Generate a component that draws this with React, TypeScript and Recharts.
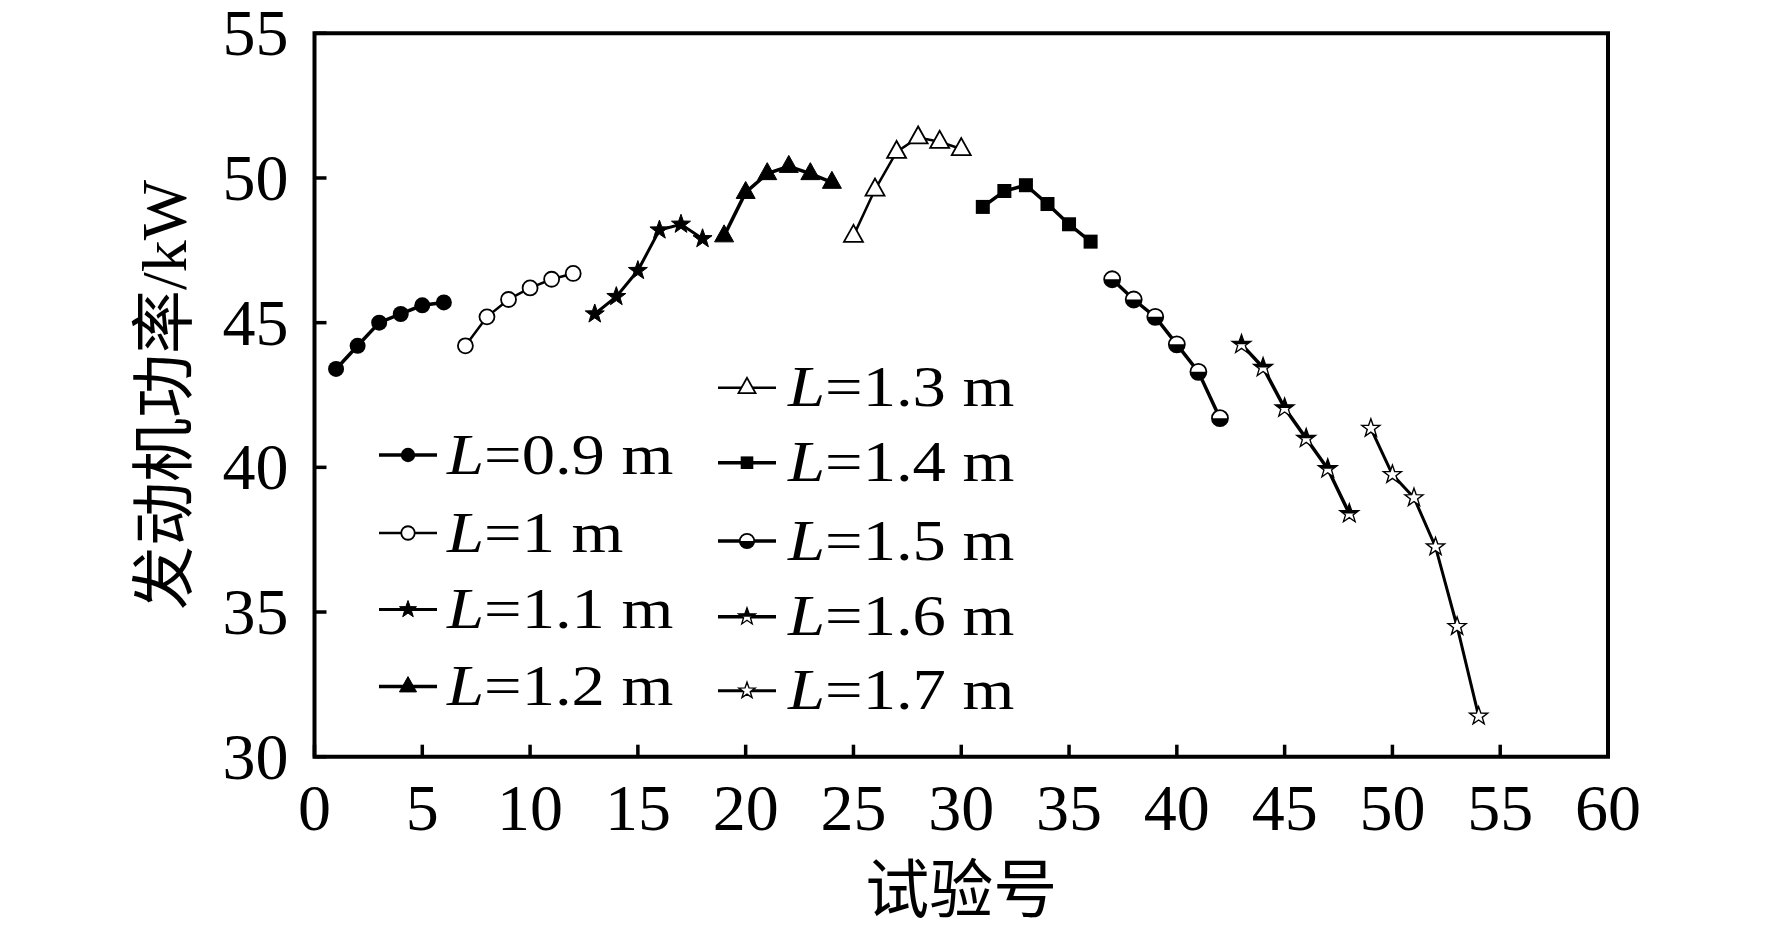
import React from 'react';
import { LineChart, Line, XAxis, YAxis, ReferenceArea, Legend, Label } from 'recharts';

// trial numbers and engine power (kW) for each tube length L
const TRIALS_09 = [1, 2, 3, 4, 5, 6];
const TRIALS_10 = [7, 8, 9, 10, 11, 12];
const TRIALS_11 = [13, 14, 15, 16, 17, 18];
const TRIALS_12 = [19, 20, 21, 22, 23, 24];
const TRIALS_13 = [25, 26, 27, 28, 29, 30];
const TRIALS_14 = [31, 32, 33, 34, 35, 36];
const TRIALS_15 = [37, 38, 39, 40, 41, 42];
const TRIALS_16 = [43, 44, 45, 46, 47, 48];
const TRIALS_17 = [49, 50, 51, 52, 53, 54];

const POWER_09 = [43.4, 44.2, 45.0, 45.3, 45.6, 45.7];
const POWER_10 = [44.2, 45.2, 45.8, 46.2, 46.5, 46.7];
const POWER_11 = [45.3, 45.9, 46.8, 48.2, 48.4, 47.9];
const POWER_12 = [48.0, 49.5, 50.15, 50.4, 50.15, 49.85];
const POWER_13 = [48.0, 49.6, 50.9, 51.4, 51.25, 51.0];
const POWER_14 = [49.0, 49.55, 49.75, 49.1, 48.4, 47.8];
const POWER_15 = [46.5, 45.8, 45.2, 44.25, 43.3, 41.7];
const POWER_16 = [44.25, 43.45, 42.05, 41.0, 39.95, 38.4];
const POWER_17 = [41.35, 39.75, 38.95, 37.25, 34.5, 31.4];

const X_TICKS = [0, 5, 10, 15, 20, 25, 30, 35, 40, 45, 50, 55, 60];
const Y_TICKS = [30, 35, 40, 45, 50, 55];

const FONT = '"Liberation Serif", "Times New Roman", serif';
const LABEL_FONT = '"Liberation Serif", "Noto Sans CJK SC", serif';

type Kind =
  | 'circle'
  | 'openCircle'
  | 'star'
  | 'triangle'
  | 'openTriangle'
  | 'square'
  | 'halfCircle'
  | 'halfStar'
  | 'openStar';

const SERIES: { key: string; label: string; x: number[]; y: number[]; kind: Kind; width: number }[] = [
  { key: 'L09', label: '0.9', x: TRIALS_09, y: POWER_09, kind: 'circle', width: 3.5 },
  { key: 'L10', label: '1', x: TRIALS_10, y: POWER_10, kind: 'openCircle', width: 2.5 },
  { key: 'L11', label: '1.1', x: TRIALS_11, y: POWER_11, kind: 'star', width: 3 },
  { key: 'L12', label: '1.2', x: TRIALS_12, y: POWER_12, kind: 'triangle', width: 3.5 },
  { key: 'L13', label: '1.3', x: TRIALS_13, y: POWER_13, kind: 'openTriangle', width: 2.5 },
  { key: 'L14', label: '1.4', x: TRIALS_14, y: POWER_14, kind: 'square', width: 3.5 },
  { key: 'L15', label: '1.5', x: TRIALS_15, y: POWER_15, kind: 'halfCircle', width: 3.5 },
  { key: 'L16', label: '1.6', x: TRIALS_16, y: POWER_16, kind: 'halfStar', width: 3.5 },
  { key: 'L17', label: '1.7', x: TRIALS_17, y: POWER_17, kind: 'openStar', width: 3 },
];

function starPoints(cx: number, cy: number, R: number) {
  const pts: string[] = [];
  for (let i = 0; i < 10; i++) {
    const a = (-90 + i * 36) * (Math.PI / 180);
    const r = i % 2 === 0 ? R : R * 0.4;
    pts.push(`${cx + r * Math.cos(a)},${cy + r * Math.sin(a)}`);
  }
  return pts.join(' ');
}

function Marker({ kind, cx, cy, s = 1 }: { kind: Kind; cx: number; cy: number; s?: number }) {
  switch (kind) {
    case 'circle':
      return <circle cx={cx} cy={cy} r={8 * s} fill="#000" />;
    case 'openCircle':
      return <circle cx={cx} cy={cy} r={7.5 * s} fill="#fff" stroke="#000" strokeWidth={1.8} />;
    case 'star':
      return <polygon points={starPoints(cx, cy, 10 * s)} fill="#000" stroke="#000" strokeWidth={1} />;
    case 'triangle':
    case 'openTriangle': {
      const w = 9.5 * s;
      const pts = `${cx},${cy - 11 * s} ${cx - w},${cy + 6 * s} ${cx + w},${cy + 6 * s}`;
      return kind === 'triangle' ? (
        <polygon points={pts} fill="#000" stroke="#000" strokeWidth={1} />
      ) : (
        <polygon points={pts} fill="#fff" stroke="#000" strokeWidth={1.8} />
      );
    }
    case 'square':
      return <rect x={cx - 7 * s} y={cy - 7 * s} width={14 * s} height={14 * s} fill="#000" />;
    case 'halfCircle': {
      const r = 8 * s;
      return (
        <g>
          <circle cx={cx} cy={cy} r={r} fill="#fff" />
          <path d={`M${cx - r},${cy} A${r},${r} 0 0 0 ${cx + r},${cy} Z`} fill="#000" />
          <circle cx={cx} cy={cy} r={r} fill="none" stroke="#000" strokeWidth={1.8} />
        </g>
      );
    }
    case 'halfStar': {
      const pts = starPoints(cx, cy, 10 * s);
      return (
        <g>
          <polygon points={pts} fill="#fff" stroke="#000" strokeWidth={1.3} />
          <polygon points={pts} fill="#000" clipPath="url(#topHalfClip)" />
        </g>
      );
    }
    case 'openStar':
    default:
      return <polygon points={starPoints(cx, cy, 9.5 * s)} fill="#fff" stroke="#000" strokeWidth={1.4} />;
  }
}

function XTick(props: any) {
  const { x, y, payload } = props;
  return (
    <g>
      <line x1={x} y1={y} x2={x} y2={y - 12} stroke="#000" strokeWidth={3.5} />
      <text x={x} y={y + 73} textAnchor="middle" fontFamily={FONT} fontSize={66} fill="#000">
        {payload.value}
      </text>
    </g>
  );
}

function YTick(props: any) {
  const { x, y, payload } = props;
  return (
    <g>
      <line x1={x} y1={y} x2={x + 12} y2={y} stroke="#000" strokeWidth={3.5} />
      <text x={x - 26} y={y + 22} textAnchor="end" fontFamily={FONT} fontSize={66} fill="#000">
        {payload.value}
      </text>
    </g>
  );
}

// legend rows: left column 0.9–1.2, right column 1.3–1.7
const LEFT_ROWS = [455, 533, 609.5, 686.5];
const RIGHT_ROWS = [387.7, 462.7, 541, 616.7, 690.7];

function LegendBox() {
  const items = SERIES.map((s, i) => {
    const left = i < 4;
    const y = left ? LEFT_ROWS[i] : RIGHT_ROWS[i - 4];
    const x0 = left ? 379 : 718;
    const tx = left ? 447 : 788;
    return (
      <g key={s.key}>
        <line x1={x0} y1={y} x2={x0 + 58} y2={y} stroke="#000" strokeWidth={s.width} />
        <Marker kind={s.kind} cx={x0 + 29} cy={y} s={0.9} />
        <text
          transform={`translate(${tx} ${y + 18.5}) scale(1.19 1)`}
          fontFamily={FONT}
          fontSize={56}
          fill="#000"
        >
          <tspan fontStyle="italic">L</tspan>
          <tspan>{`=${s.label} m`}</tspan>
        </text>
      </g>
    );
  });
  return (
    <svg width={1772} height={933} style={{ position: 'absolute', left: 0, top: 0 }}>
      <defs>
        <clipPath id="topHalfClip" clipPathUnits="objectBoundingBox">
          <rect x={0} y={0} width={1} height={0.55} />
        </clipPath>
      </defs>
      {items}
    </svg>
  );
}

export default function App() {
  return (
    <div style={{ position: 'absolute', left: 0, top: 0, width: 1772, height: 933, background: '#fff' }}>
      <LineChart
        width={1772}
        height={933}
        margin={{ top: 33.3, right: 164, bottom: 136.3, left: 274.5 }}
      >
        <defs>
          <clipPath id="topHalfClip" clipPathUnits="objectBoundingBox">
            <rect x={0} y={0} width={1} height={0.55} />
          </clipPath>
        </defs>
        <XAxis
          dataKey="trial"
          type="number"
          domain={[0, 60]}
          ticks={X_TICKS}
          interval={0}
          allowDataOverflow
          axisLine={false}
          tickLine={false}
          tickSize={0}
          tickMargin={0}
          tick={XTick}
          height={40}
        >
          <Label
            content={(p: any) => {
              const vb = p.viewBox;
              return (
                <text
                  x={vb.x + vb.width / 2}
                  y={vb.y + 134}
                  textAnchor="middle"
                  dominantBaseline="central"
                  fontFamily={LABEL_FONT}
                  fontSize={64}
                  fill="#000"
                >
                  试验号
                </text>
              );
            }}
          />
        </XAxis>
        <YAxis
          type="number"
          domain={[30, 55]}
          ticks={Y_TICKS}
          interval={0}
          allowDataOverflow
          axisLine={false}
          tickLine={false}
          tickSize={0}
          tickMargin={0}
          tick={YTick}
          width={40}
        >
          <Label
            content={(p: any) => {
              const vb = p.viewBox;
              const cx = vb.x + vb.width - 150;
              const cy = vb.y + vb.height / 2;
              return (
                <text
                  x={cx}
                  y={cy}
                  transform={`rotate(-90 ${cx} ${cy})`}
                  textAnchor="middle"
                  dominantBaseline="central"
                  fontFamily={LABEL_FONT}
                  fontSize={64}
                  fill="#000"
                >
                  发动机功率/kW
                </text>
              );
            }}
          />
        </YAxis>
        <ReferenceArea x1={0} x2={60} y1={30} y2={55} fill="none" stroke="#000" strokeWidth={4} />
        {SERIES.map((s) => (
          <Line
            key={s.key}
            name={`L=${s.label} m`}
            data={s.x.map((t, i) => ({ trial: t, power: s.y[i] }))}
            dataKey="power"
            type="linear"
            stroke="#000"
            strokeWidth={s.width}
            isAnimationActive={false}
            activeDot={false}
            dot={(p: any) => <Marker key={`${s.key}-${p.index}`} kind={s.kind} cx={p.cx} cy={p.cy} />}
          />
        ))}
        <Legend
          verticalAlign="middle"
          align="center"
          layout="horizontal"
          wrapperStyle={{ left: 0, top: 0, width: 1772, height: 933, pointerEvents: 'none' }}
          content={() => <LegendBox />}
        />
      </LineChart>
    </div>
  );
}
